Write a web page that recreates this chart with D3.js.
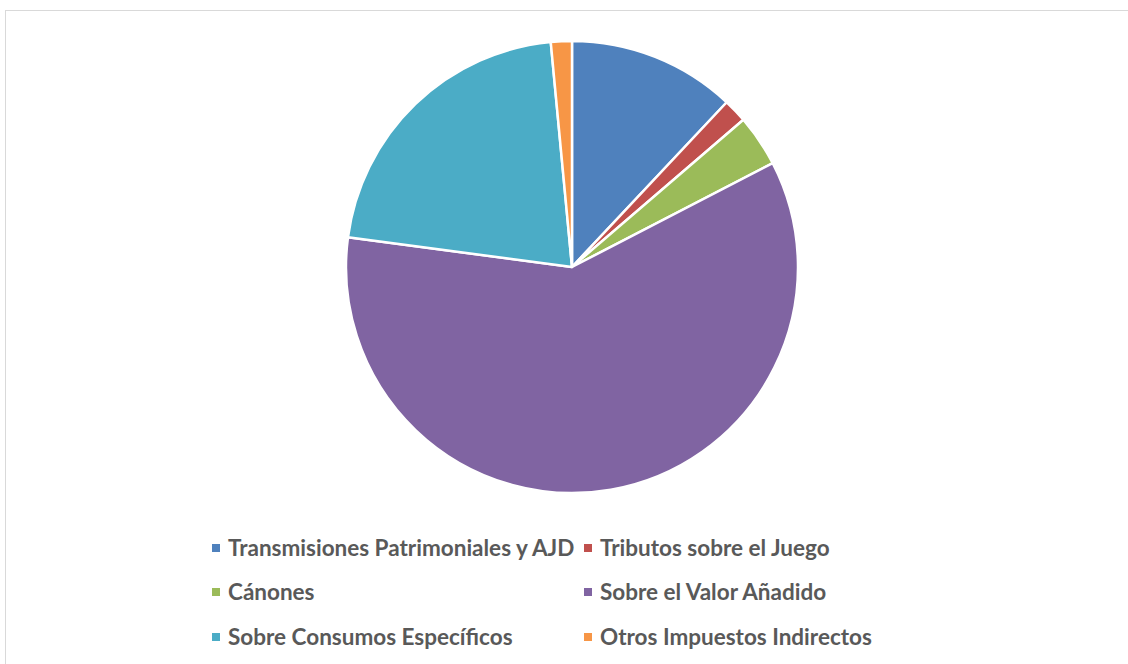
<!DOCTYPE html>
<html>
<head>
<meta charset="utf-8">
<script src="https://cdn.jsdelivr.net/npm/d3@7"></script>
<style>
  body { margin: 0; background: #fff; }
</style>
</head>
<body>
<div id="chart"></div>
<script>
// Share of indirect taxes (percent)
const categories = [
  "Transmisiones Patrimoniales y AJD",
  "Tributos sobre el Juego",
  "Cánones",
  "Sobre el Valor Añadido",
  "Sobre Consumos Específicos",
  "Otros Impuestos Indirectos"
];
const values = [12.0, 1.7, 3.7, 59.7, 21.4, 1.5];
const colors = ["#4f81bd", "#c0504d", "#9bbb59", "#8064a2", "#4bacc6", "#f79646"];

const w = 1128;
const h = 664;
const cx = 572, cy = 267, radius = 226;

const svg = d3.select("#chart")
  .append("svg")
  .attr("width", w)
  .attr("height", h);

// chart area frame
svg.append("rect")
  .attr("x", 5.5).attr("y", 10.5)
  .attr("width", w + 10).attr("height", h + 10)
  .attr("fill", "#fff")
  .attr("stroke", "#d9d9d9")
  .attr("stroke-width", 1);

const pie = d3.pie().sort(null).value((d) => d);
const arc = d3.arc().innerRadius(0).outerRadius(radius);

const g = svg.append("g").attr("transform", `translate(${cx},${cy})`);

g.selectAll("path")
  .data(pie(values))
  .enter()
  .append("path")
  .attr("d", arc)
  .attr("fill", (d, i) => colors[i])
  .attr("stroke", "#fff")
  .attr("stroke-width", 2.5)
  .attr("stroke-linejoin", "round");

// legend: two columns, three rows
const colX = [212, 584];
const rowY = [548, 592, 637];

const legend = svg.selectAll(".legend")
  .data(categories)
  .enter()
  .append("g")
  .attr("class", "legend")
  .attr("transform", (d, i) => `translate(${colX[i % 2]}, ${rowY[Math.floor(i / 2)]})`);

legend.append("rect")
  .attr("x", 0).attr("y", -4)
  .attr("width", 8).attr("height", 8)
  .attr("fill", (d, i) => colors[i]);

legend.append("text")
  .attr("x", 16)
  .attr("y", 0)
  .attr("dy", "0.35em")
  .style("font-family", "Lato, 'Open Sans', sans-serif")
  .style("font-weight", "bold")
  .style("font-size", "22.5px")
  .style("fill", "#595959")
  .text((d) => d);
</script>
</body>
</html>
